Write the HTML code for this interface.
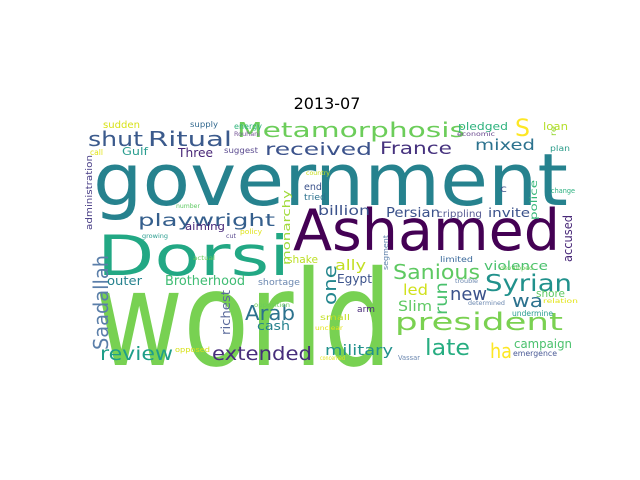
<!DOCTYPE html>
<html><head><meta charset="utf-8"><style>
html,body{margin:0;padding:0;background:#fff;width:640px;height:480px;overflow:hidden}
svg text.w{font-family:"DejaVu Sans","Liberation Sans",sans-serif}
</style></head><body>
<svg id="chart" width="640" height="480" viewBox="0 0 640 480" xmlns="http://www.w3.org/2000/svg">
<text x="327" y="109" text-anchor="middle" font-size="16" fill="#000" font-family="DejaVu Sans, Liberation Sans, sans-serif">2013-07</text>
<g id="words"></g>
</svg>
<script>
const words = ["government","world","Ashamed","Dorsi","president","Metamorphosis","S","shut","Ritual","received","France","mixed","pledged","loan","economic","re","plan","sudden","supply","energy","Rouhani","call","Gulf","Three","suggest","administration","country","monarchy","end","tried","billion","Persian","crippling","invite","c","police","change","accused","playwright","number","aiming","policy","growing","cut","Saadallah","actual","shake","one","ally","segment","limited","violence","outer","Brotherhood","shortage","Sanious","developed","Egypt","trouble","Syrian","run","new","led","wa","shore","relation","determined","Slim","arm","undermine","richest","Arab","small","opposition","unclear","cash","review","opposed","extended","military","late","ha","campaign","emergence","concerned","Vassar"];
const xs = [93,95,293,97,395,237,515,88,148,265,380,475,458,543,457,556,550,103,190,234,234,90,122,178,224,92,306,290,304,304,318,386,437,488,500,537,551,572,138,176,185,240,142,226,108,193,287,336,335,388,440,484,107,165,258,393,500,337,455,485,447,450,403,512,536,543,468,398,357,512,230,245,320,254,315,257,100,175,212,325,425,490,514,513,320,398];
const ys = [205,365,250,275,330,137,136,146,146,155,154,150,130,130,136,136,151,128,127,129,136,155,155,157,153,230,175,265,190,200,215,217,217,217,192,220,193,262,226,208,230,234,238,238,350,260,263,305,270,270,262,270,285,285,285,279,270,283,283,291,315,300,295,307,297,303,305,311,312,316,335,320,320,307,330,330,360,352,360,355,355,358,348,356,360,360];
const ws = [475,297,267,193,168,228,15,55,84,107,72,60,50,25,38,10,20,37,28,28,26,13,26,35,34,75,24,75,18,22,52,54,45,42,7,40,24,47,137,24,40,22,26,10,95,22,31,40,31,35,33,64,35,80,42,87,33,35,23,87,33,37,25,31,29,35,37,34,18,41,45,50,30,36,28,33,73,35,100,68,45,22,58,44,25,22];
const fs = [72,132,57,55,24,20,24,20,20,17,17,15,11,11,6,8,8,10,8,8,6,8,11,12,8,9,6,11,10,9,13,13,10,12,10,10,7,12,17,6,11,7,6,6,20,6,11,18,14,7,8,12,12,13,9,20,6,12,6,23,17,18,15,18,11,6,6,14,9,8,12,20,8,6,6,12,19,7,19,14,22,20,12,8,6,7];
const cs = ["#26828e","#78d152","#440154","#22a884","#7ad151","#6ccd5a","#fde725","#3b5a8c","#3b5a8c","#3b528b","#46327e","#2c728e","#2db27d","#b5de2b","#6b4a8f","#9bd93c","#2c9c8a","#d8e219","#31688e","#2fb47c","#7a5a99","#e3e418","#2a9d8f","#482677","#5a4a8f","#443983","#c8e020","#a0da39","#3b528b","#2c728e","#3b528b","#3b528b","#5a5f96","#3b528b","#3b528b","#35b779","#2ab07f","#482878","#355f8d","#5ec962","#482878","#e0e31c","#2a9d8f","#5a4a8f","#5a7ea9","#6ccd5a","#bddf26","#24868e","#c2df23","#5a7ea9","#3b6a9b","#4ac16d","#26828e","#3fbc73","#6c88b0","#5ec962","#6ccd5a","#3b528b","#6c88b0","#21918c","#4ac16d","#3b528b","#d0e11c","#2c728e","#5ec962","#e3e418","#6c88b0","#5ec962","#482878","#2a9d8f","#5a6a9b","#2c728e","#c2df23","#6ccd5a","#e3e418","#26828e","#1f9e89","#d8e219","#472d7b","#21918c","#27ad81","#fde725","#4ac16d","#4a5a96","#e3e418","#6c88b0"];
const vs = [0,0,0,0,0,0,0,0,0,0,0,0,0,0,0,1,0,0,0,0,0,0,0,0,0,1,0,1,0,0,0,0,0,0,0,1,0,1,0,0,0,0,0,0,1,0,0,1,0,1,0,0,0,0,0,0,0,0,0,0,1,0,0,0,0,0,0,0,0,0,1,0,0,0,0,0,0,0,0,0,0,0,0,0,0,0];
const g = document.getElementById('words');
const NS = 'http://www.w3.org/2000/svg';
for (let i = 0; i < words.length; i++) {
  const t = document.createElementNS(NS, 'text');
  
  
  t.setAttribute('class', 'w');
  t.setAttribute('font-size', fs[i]);
  t.setAttribute('fill', cs[i]);
  t.setAttribute('textLength', ws[i]);
  t.setAttribute('lengthAdjust', 'spacingAndGlyphs');
  if (vs[i]) {
    t.setAttribute('x', 0); t.setAttribute('y', 0);
    t.setAttribute('transform', 'translate(' + xs[i] + ',' + ys[i] + ') rotate(-90)');
  } else {
    t.setAttribute('x', xs[i]); t.setAttribute('y', ys[i]);
  }
  t.textContent = words[i];
  g.appendChild(t);
}
</script>
</body></html>
